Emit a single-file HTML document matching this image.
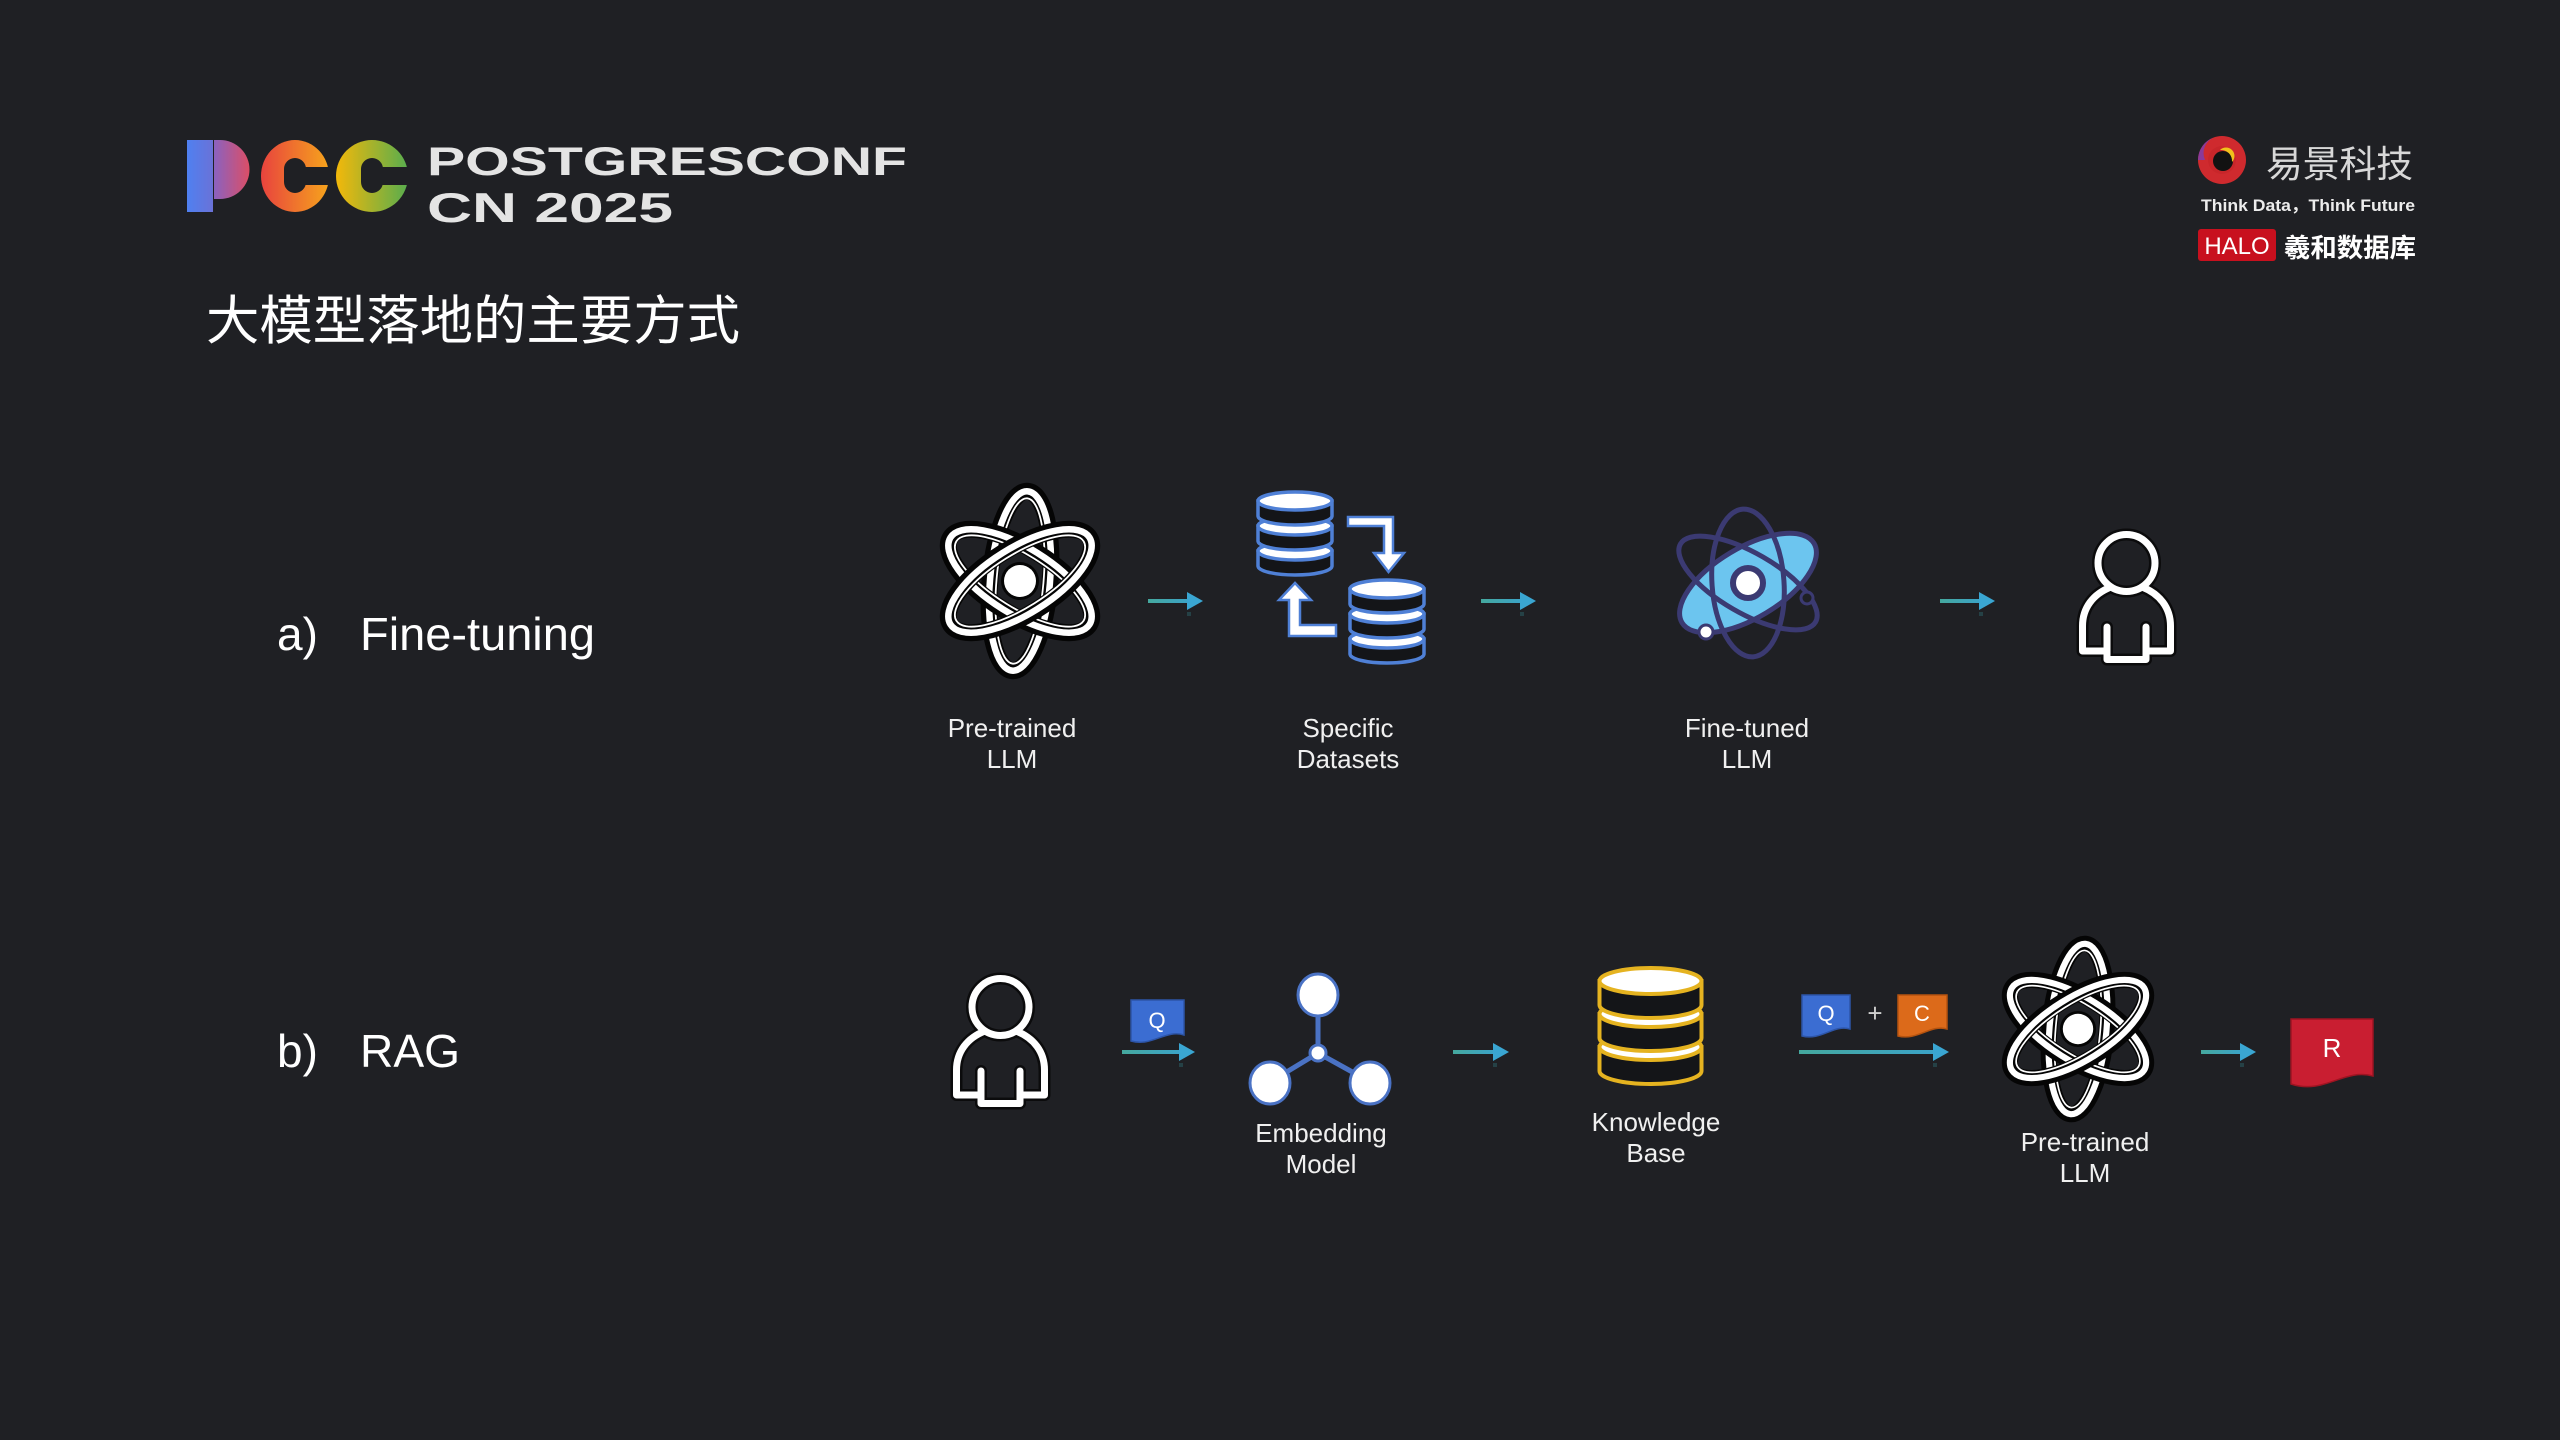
<!DOCTYPE html>
<html>
<head>
<meta charset="utf-8">
<style>
html,body{margin:0;padding:0;background:#1f2024;}
body{width:2560px;height:1440px;overflow:hidden;}
svg{display:block;}
</style>
</head>
<body>
<svg width="2560" height="1440" viewBox="0 0 2560 1440" xmlns="http://www.w3.org/2000/svg">
<defs>
  <linearGradient id="gStem" x1="0" y1="0" x2="1" y2="0">
    <stop offset="0" stop-color="#4f80f0"/><stop offset="1" stop-color="#6a72d8"/>
  </linearGradient>
  <linearGradient id="gBowl" x1="0" y1="0" x2="1" y2="0">
    <stop offset="0" stop-color="#8a62c0"/><stop offset="1" stop-color="#dc4e66"/>
  </linearGradient>
  <linearGradient id="gC1" x1="0" y1="0" x2="1" y2="0">
    <stop offset="0" stop-color="#e8433e"/><stop offset="1" stop-color="#f6a41c"/>
  </linearGradient>
  <linearGradient id="gC2" x1="0" y1="0" x2="1" y2="0">
    <stop offset="0" stop-color="#f3b80a"/><stop offset="1" stop-color="#58ad4e"/>
  </linearGradient>
  <linearGradient id="gArrow" x1="0" y1="0" x2="1" y2="0">
    <stop offset="0" stop-color="#45a89e"/><stop offset="1" stop-color="#3ba3c8"/>
  </linearGradient>

  <g id="person" fill="none" stroke-linecap="round" stroke-linejoin="round">
    <g stroke="#0b0b0c" stroke-width="12">
      <circle cx="48.5" cy="33" r="28.5"/>
      <path d="M33 57 C15 64 4.5 78 4.5 96 V121 H29"/>
      <path d="M64 57 C82 64 92.5 78 92.5 96 V121 H68"/>
      <path d="M29 97 V129.5 H68 V97"/>
    </g>
    <g stroke="#ffffff" stroke-width="7">
      <circle cx="48.5" cy="33" r="28.5"/>
      <path d="M33 57 C15 64 4.5 78 4.5 96 V121 H29"/>
      <path d="M64 57 C82 64 92.5 78 92.5 96 V121 H68"/>
      <path d="M29 97 V129.5 H68 V97"/>
    </g>
  </g>

  <g id="atom">
    <g transform="rotate(95)">
      <ellipse rx="90" ry="30" fill="none" stroke="#050505" stroke-width="17"/>
      <ellipse rx="90" ry="30" fill="none" stroke="#ffffff" stroke-width="6.5"/>
      <ellipse rx="83" ry="23.5" fill="none" stroke="#ffffff" stroke-width="1.8"/>
    </g>
    <g transform="rotate(32)">
      <ellipse rx="82" ry="33" fill="none" stroke="#050505" stroke-width="17"/>
      <ellipse rx="82" ry="33" fill="none" stroke="#ffffff" stroke-width="6.5"/>
      <ellipse rx="75" ry="26.5" fill="none" stroke="#ffffff" stroke-width="1.8"/>
    </g>
    <g transform="rotate(-32)">
      <ellipse rx="82" ry="33" fill="none" stroke="#050505" stroke-width="17"/>
      <ellipse rx="82" ry="33" fill="none" stroke="#ffffff" stroke-width="6.5"/>
      <ellipse rx="75" ry="26.5" fill="none" stroke="#ffffff" stroke-width="1.8"/>
    </g>
    <circle r="19" fill="#050505"/>
    <circle r="16" fill="#ffffff"/>
  </g>
</defs>

<!-- ===== PCC logo ===== -->
<rect x="187" y="140" width="26" height="72" fill="url(#gStem)"/>
<path d="M214 140 H220 A29.5 29.5 0 0 1 220 199 H214 Z" fill="url(#gBowl)"/>
<ellipse cx="295" cy="176" rx="34" ry="36" fill="url(#gC1)"/>
<rect x="284" y="158" width="22" height="35" rx="11" fill="#1f2024"/>
<rect x="298" y="167" width="34" height="18" fill="#1f2024"/>
<ellipse cx="372" cy="176" rx="36" ry="36" fill="url(#gC2)"/>
<rect x="361" y="158" width="22" height="35" rx="11" fill="#1f2024"/>
<rect x="375" y="167" width="36" height="18" fill="#1f2024"/>

<text x="427" y="175" font-family="Liberation Sans, sans-serif" font-weight="bold" font-size="40" fill="#e4e4e4" textLength="480" lengthAdjust="spacingAndGlyphs">POSTGRESCONF</text>
<text x="427" y="222" font-family="Liberation Sans, sans-serif" font-weight="bold" font-size="42" fill="#e4e4e4" textLength="246" lengthAdjust="spacingAndGlyphs">CN 2025</text>

<!-- Title -->
<text x="206" y="339" font-family="Liberation Sans, 'Noto Sans CJK SC', sans-serif" font-size="53" fill="#ffffff" textLength="534" lengthAdjust="spacingAndGlyphs">大模型落地的主要方式</text>

<!-- ===== Right logo ===== -->
<g transform="translate(2222,160)">
  <circle r="24" fill="#cf2a2e"/>
  <path d="M0 -24 A24 24 0 0 1 0 24 A17 17 0 0 0 0 -24 Z" fill="#6b2e8c"/>
  <path d="M-24 0 A24 24 0 0 1 -8 -22.6 A17 17 0 0 0 -17 0 Z" fill="#8a3a9a"/>
  <circle r="14" fill="#c8262a"/>
  <circle r="10" cx="1" cy="1" fill="#121212"/>
  <path d="M-2 -10 A11 11 0 0 1 10 2 A7 7 0 0 0 -2 -10 Z" fill="#f0c21c"/>
</g>
<text x="2266" y="177" font-family="Liberation Sans, 'Noto Sans CJK SC', sans-serif" font-size="37" fill="#d8d8d8" textLength="147" lengthAdjust="spacingAndGlyphs">易景科技</text>
<text x="2201" y="211" font-family="Liberation Sans, 'Noto Sans CJK SC', sans-serif" font-weight="bold" font-size="17" fill="#ececec" textLength="214" lengthAdjust="spacingAndGlyphs">Think Data，Think Future</text>
<rect x="2198" y="229" width="78" height="32" rx="3" fill="#c8101e"/>
<text x="2237" y="254" text-anchor="middle" font-family="Liberation Sans, sans-serif" font-size="24" fill="#ffffff">HALO</text>
<text x="2284" y="257" font-family="Liberation Sans, 'Noto Sans CJK SC', sans-serif" font-weight="bold" font-size="26" fill="#ffffff" textLength="132" lengthAdjust="spacingAndGlyphs">羲和数据库</text>

<!-- ===== Section labels ===== -->
<g font-family="Liberation Sans, sans-serif" font-size="46" fill="#ffffff">
  <text x="277" y="650">a)</text>
  <text x="360" y="650" textLength="235" lengthAdjust="spacingAndGlyphs">Fine-tuning</text>
  <text x="277" y="1067">b)</text>
  <text x="360" y="1067" textLength="100" lengthAdjust="spacingAndGlyphs">RAG</text>
</g>

<!-- ===== Row a ===== -->
<use href="#atom" transform="translate(1020,581)"/>

<!-- Specific datasets icon -->
<g stroke="#4f80d6" stroke-width="3.5">
  <path d="M1258 551 V566 A37 9 0 0 0 1332 566 V551 Z" fill="#141518"/>
  <ellipse cx="1295" cy="551" rx="37" ry="9" fill="#ffffff"/>
  <path d="M1258 526 V541 A37 9 0 0 0 1332 541 V526 Z" fill="#141518"/>
  <ellipse cx="1295" cy="526" rx="37" ry="9" fill="#ffffff"/>
  <path d="M1258 501 V516 A37 9 0 0 0 1332 516 V501 Z" fill="#141518"/>
  <ellipse cx="1295" cy="501" rx="37" ry="9" fill="#ffffff"/>
  <path d="M1350 639 V654 A37 9 0 0 0 1424 654 V639 Z" fill="#141518"/>
  <ellipse cx="1387" cy="639" rx="37" ry="9" fill="#ffffff"/>
  <path d="M1350 614 V629 A37 9 0 0 0 1424 629 V614 Z" fill="#141518"/>
  <ellipse cx="1387" cy="614" rx="37" ry="9" fill="#ffffff"/>
  <path d="M1350 589 V604 A37 9 0 0 0 1424 604 V589 Z" fill="#141518"/>
  <ellipse cx="1387" cy="589" rx="37" ry="9" fill="#ffffff"/>
</g>
<g fill="#ffffff" stroke="#4f80d6" stroke-width="2.5" stroke-linejoin="miter">
  <path d="M1348 517 H1393 V553 H1404 L1388.5 572 L1374 553 H1384 V526 H1348 Z"/>
  <path d="M1336 625 V636 H1289 V600 H1279 L1295 583 L1311 600 H1300 V625 Z"/>
</g>

<!-- Fine-tuned atom -->
<g transform="translate(1748,583)" fill="none" stroke="#3b3a72" stroke-width="5">
  <ellipse rx="77" ry="35" transform="rotate(-31)" fill="#6cc5ef"/>
  <ellipse rx="36" ry="74" transform="rotate(-4)"/>
  <ellipse rx="78" ry="30" transform="rotate(30)"/>
  <circle r="15" fill="#ffffff" stroke-width="6"/>
  <circle cx="-42" cy="49" r="7" fill="#ffffff" stroke-width="3"/>
  <circle cx="59" cy="15" r="6" fill="#1f2024" stroke-width="3"/>
</g>

<use href="#person" transform="translate(2078,530)"/>

<!-- Row a arrows -->
<g>
  <rect x="1148" y="599" width="41" height="4" fill="url(#gArrow)"/>
  <polygon points="1187,592 1203,601 1187,610" fill="#3aa6d2"/>
  <rect x="1481" y="599" width="41" height="4" fill="url(#gArrow)"/>
  <polygon points="1520,592 1536,601 1520,610" fill="#3aa6d2"/>
  <rect x="1940" y="599" width="41" height="4" fill="url(#gArrow)"/>
  <polygon points="1979,592 1995,601 1979,610" fill="#3aa6d2"/>
  <g fill="#2d6a72" opacity="0.45">
    <rect x="1187" y="612" width="4" height="4"/>
    <rect x="1520" y="612" width="4" height="4"/>
    <rect x="1979" y="612" width="4" height="4"/>
  </g>
</g>

<!-- Row a labels -->
<g font-family="Liberation Sans, sans-serif" font-size="26" fill="#f0f0f0" text-anchor="middle">
  <text x="1012" y="737">Pre-trained</text>
  <text x="1012" y="768">LLM</text>
  <text x="1348" y="737">Specific</text>
  <text x="1348" y="768">Datasets</text>
  <text x="1747" y="737">Fine-tuned</text>
  <text x="1747" y="768">LLM</text>
</g>

<!-- ===== Row b ===== -->
<use href="#person" transform="translate(952,974)"/>

<!-- Q doc 1 -->
<path d="M1131 1000 H1184 V1035 C1166 1029 1152 1047 1131 1041 Z" fill="#3b6dd2" stroke="#2d55a8" stroke-width="1.5"/>
<text x="1157" y="1028" text-anchor="middle" font-family="Liberation Sans, sans-serif" font-size="22" fill="#ffffff">Q</text>

<!-- Embedding model icon -->
<g stroke="#4a72c4">
  <line x1="1318" y1="1053" x2="1318" y2="1000" stroke-width="5"/>
  <line x1="1318" y1="1053" x2="1275" y2="1079" stroke-width="5"/>
  <line x1="1318" y1="1053" x2="1365" y2="1079" stroke-width="5"/>
  <ellipse cx="1318" cy="995" rx="20" ry="21" fill="#ffffff" stroke-width="3"/>
  <ellipse cx="1270" cy="1083" rx="20" ry="21" fill="#ffffff" stroke-width="3"/>
  <ellipse cx="1370" cy="1083" rx="20" ry="21" fill="#ffffff" stroke-width="3"/>
  <circle cx="1318" cy="1053" r="8" fill="#ffffff" stroke-width="3"/>
</g>

<!-- Knowledge base DB -->
<g stroke="#e5b320" stroke-width="4">
  <path d="M1599.5 1047 V1071 A51 13 0 0 0 1701.5 1071 V1047 Z" fill="#141518"/>
  <ellipse cx="1650.5" cy="1047" rx="51" ry="13" fill="#ffffff"/>
  <path d="M1599.5 1014 V1038 A51 13 0 0 0 1701.5 1038 V1014 Z" fill="#141518"/>
  <ellipse cx="1650.5" cy="1014" rx="51" ry="13" fill="#ffffff"/>
  <path d="M1599.5 981 V1005 A51 13 0 0 0 1701.5 1005 V981 Z" fill="#141518"/>
  <ellipse cx="1650.5" cy="981" rx="51" ry="13" fill="#ffffff"/>
</g>

<!-- Q + C docs -->
<path d="M1802 995 H1850 V1029 C1834 1024 1821 1041 1802 1036 Z" fill="#3b6dd2" stroke="#2d55a8" stroke-width="1.5"/>
<text x="1826" y="1021" text-anchor="middle" font-family="Liberation Sans, sans-serif" font-size="22" fill="#ffffff">Q</text>
<text x="1875" y="1022" text-anchor="middle" font-family="Liberation Sans, sans-serif" font-size="26" fill="#cfcfcf">+</text>
<path d="M1898 995 H1947 V1029 C1931 1024 1917 1041 1898 1036 Z" fill="#dc6a1a" stroke="#b5530f" stroke-width="1.5"/>
<text x="1922" y="1021" text-anchor="middle" font-family="Liberation Sans, sans-serif" font-size="22" fill="#ffffff">C</text>

<!-- Pre-trained atom 2 -->
<use href="#atom" transform="translate(2078,1029) scale(0.95)"/>

<!-- R doc -->
<path d="M2291 1019 H2373 V1076 C2344 1068 2324 1095 2291 1084 Z" fill="#c91e31" stroke="#9e1422" stroke-width="1.5"/>
<text x="2332" y="1057" text-anchor="middle" font-family="Liberation Sans, sans-serif" font-size="26" fill="#ffffff">R</text>

<!-- Row b arrows -->
<g>
  <rect x="1122" y="1050" width="59" height="4" fill="url(#gArrow)"/>
  <polygon points="1179,1043 1195,1052 1179,1061" fill="#3aa6d2"/>
  <rect x="1453" y="1050" width="42" height="4" fill="url(#gArrow)"/>
  <polygon points="1493,1043 1509,1052 1493,1061" fill="#3aa6d2"/>
  <rect x="1799" y="1050" width="136" height="4" fill="url(#gArrow)"/>
  <polygon points="1933,1043 1949,1052 1933,1061" fill="#3aa6d2"/>
  <rect x="2201" y="1050" width="41" height="4" fill="url(#gArrow)"/>
  <polygon points="2240,1043 2256,1052 2240,1061" fill="#3aa6d2"/>
  <g fill="#2d6a72" opacity="0.45">
    <rect x="1179" y="1063" width="4" height="4"/>
    <rect x="1493" y="1063" width="4" height="4"/>
    <rect x="1933" y="1063" width="4" height="4"/>
    <rect x="2240" y="1063" width="4" height="4"/>
  </g>
</g>

<!-- Row b labels -->
<g font-family="Liberation Sans, sans-serif" font-size="26" fill="#f0f0f0" text-anchor="middle">
  <text x="1321" y="1142">Embedding</text>
  <text x="1321" y="1173">Model</text>
  <text x="1656" y="1131">Knowledge</text>
  <text x="1656" y="1162">Base</text>
  <text x="2085" y="1151">Pre-trained</text>
  <text x="2085" y="1182">LLM</text>
</g>
</svg>
</body>
</html>
